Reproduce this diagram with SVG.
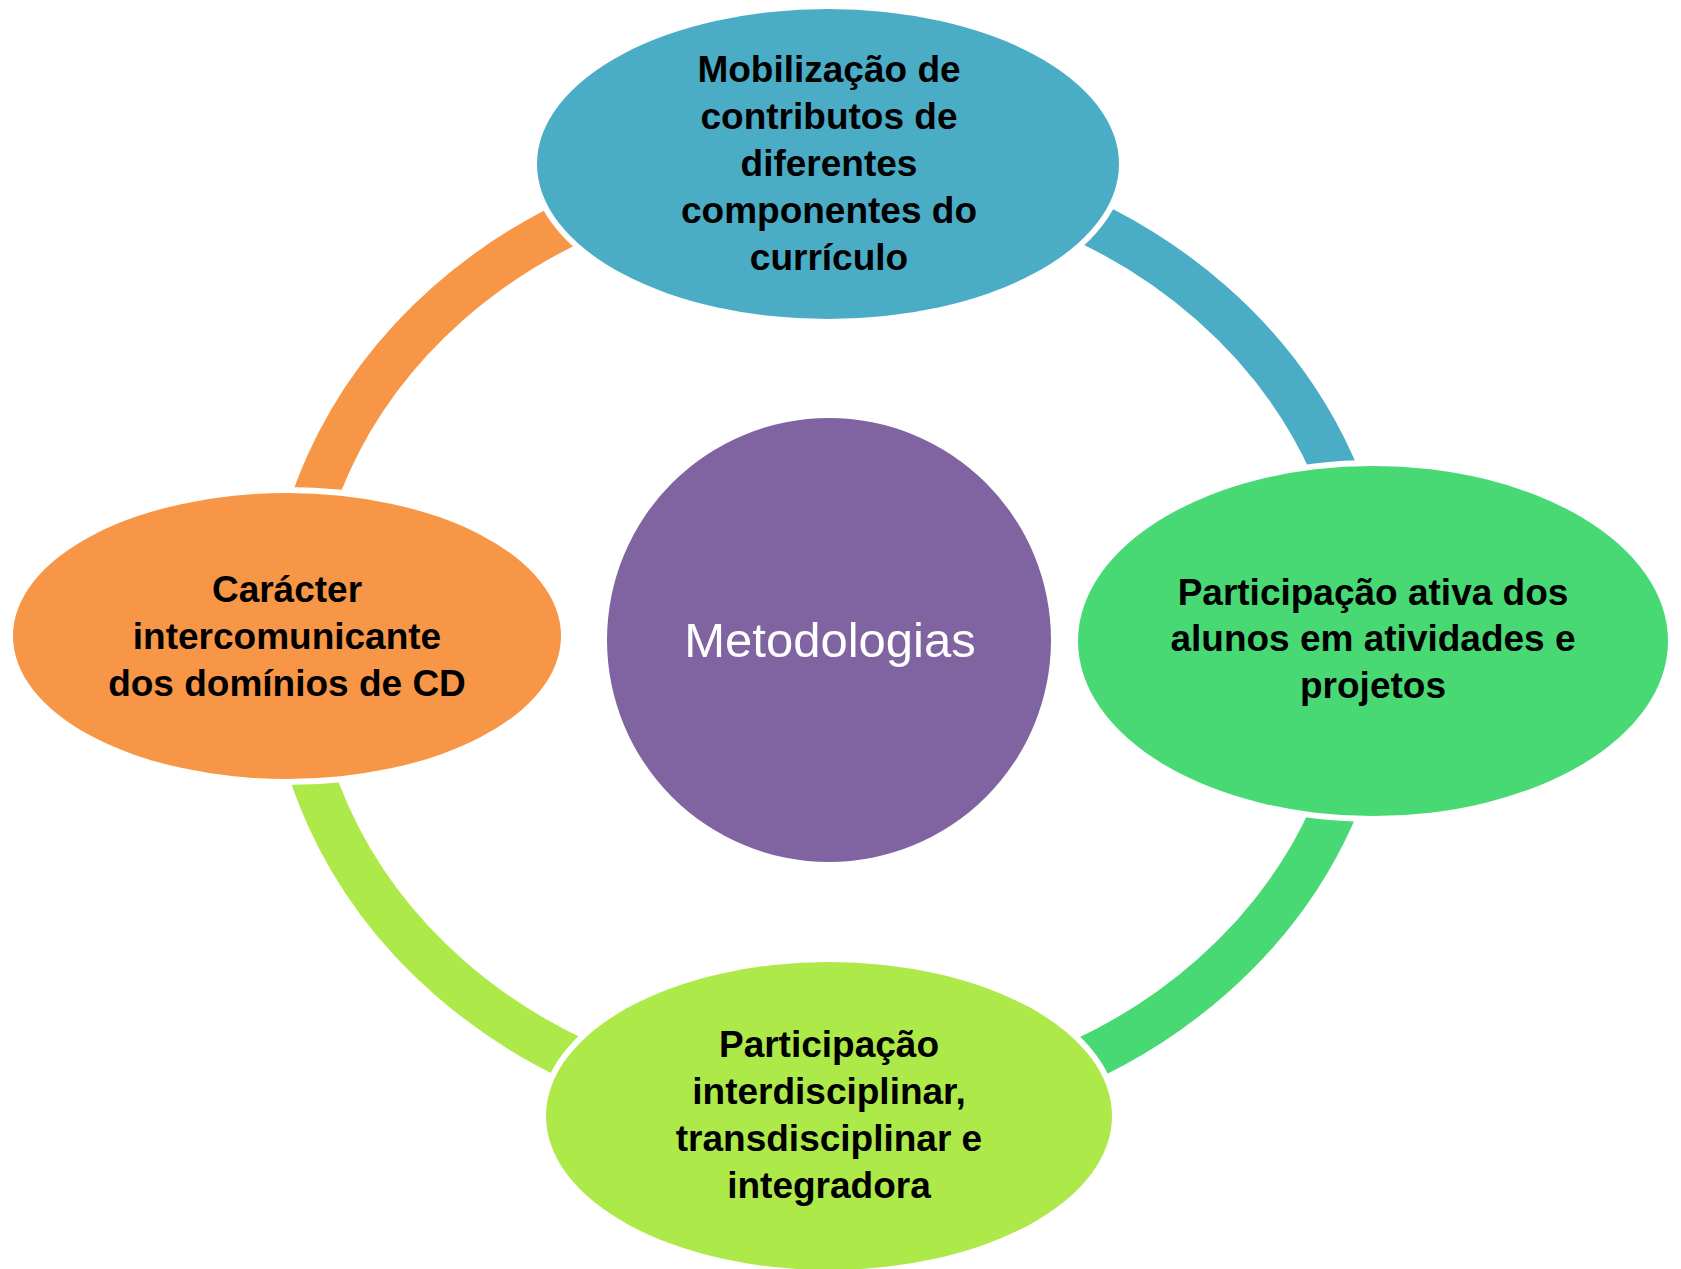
<svg xmlns="http://www.w3.org/2000/svg" width="1681" height="1269" viewBox="0 0 1681 1269">
<style>
.ring{fill:none;stroke-width:45;stroke-linecap:butt}
.halo{fill:#ffffff}
.lbl{font-family:"Liberation Sans",Arial,sans-serif;font-weight:bold;font-size:37px;fill:#000000;text-anchor:middle}
.ctr{font-family:"Liberation Sans",Arial,sans-serif;font-size:49px;fill:#ffffff;text-anchor:middle}
</style>
<rect width="1681" height="1269" fill="#ffffff"/>
<g id="connectors">
<path class="ring" stroke="#4BACC6" d="M 830 164 A 540 476 0 0 1 1370 640"/>
<path class="ring" stroke="#48D874" d="M 1370 640 A 540 476 0 0 1 830 1116"/>
<path class="ring" stroke="#ADE948" d="M 830 1116 A 540 476 0 0 1 290 640"/>
<path class="ring" stroke="#F79646" d="M 290 640 A 540 476 0 0 1 830 164"/>
</g>
<g id="center">
<circle cx="829" cy="640" r="222" fill="#8064A2"/>
<text class="ctr" x="830" y="657">Metodologias</text>
</g>
<g id="node-top">
<ellipse class="halo" cx="828" cy="164" rx="297" ry="161"/>
<ellipse cx="828" cy="164" rx="291" ry="155" fill="#4BACC6"/>
<text class="lbl" x="829" y="82">Mobilização de</text>
<text class="lbl" x="829" y="129">contributos de</text>
<text class="lbl" x="829" y="176">diferentes</text>
<text class="lbl" x="829" y="223">componentes do</text>
<text class="lbl" x="829" y="270">currículo</text>
</g>
<g id="node-right">
<ellipse class="halo" cx="1373" cy="641" rx="301" ry="181"/>
<ellipse cx="1373" cy="641" rx="295" ry="175" fill="#48D874"/>
<text class="lbl" x="1373" y="605">Participação ativa dos</text>
<text class="lbl" x="1373" y="651">alunos em atividades e</text>
<text class="lbl" x="1373" y="698">projetos</text>
</g>
<g id="node-bottom">
<ellipse class="halo" cx="829" cy="1116" rx="289" ry="160"/>
<ellipse cx="829" cy="1116" rx="283" ry="154" fill="#ADE948"/>
<text class="lbl" x="829" y="1057">Participação</text>
<text class="lbl" x="829" y="1104">interdisciplinar,</text>
<text class="lbl" x="829" y="1151">transdisciplinar e</text>
<text class="lbl" x="829" y="1198">integradora</text>
</g>
<g id="node-left">
<ellipse class="halo" cx="287" cy="636" rx="280" ry="149"/>
<ellipse cx="287" cy="636" rx="274" ry="143" fill="#F79646"/>
<text class="lbl" x="287" y="602">Carácter</text>
<text class="lbl" x="287" y="649">intercomunicante</text>
<text class="lbl" x="287" y="696">dos domínios de CD</text>
</g>
</svg>
